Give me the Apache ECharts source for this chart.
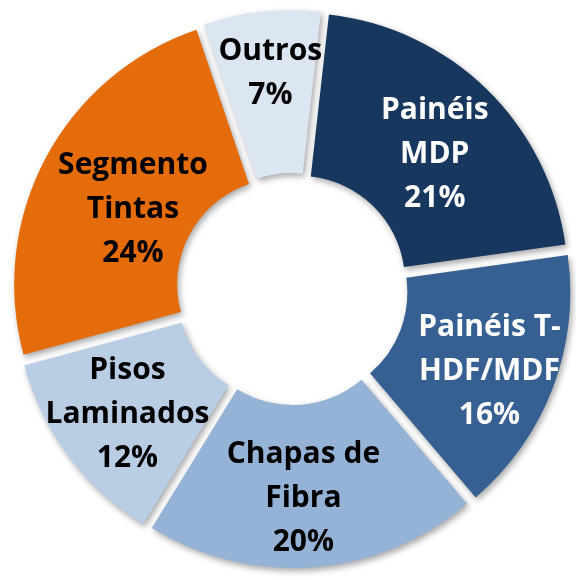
<!DOCTYPE html>
<html>
<head>
<meta charset="utf-8">
<script src="https://cdn.jsdelivr.net/npm/echarts@6/dist/echarts.min.js"></script>
<style>
    html, body { margin: 0; padding: 0; background: #fff; }
    #donutChart { width: 576px; height: 580px; }
</style>
</head>
<body>
<div id="donutChart"></div>
<script>
    // segmentos (ordem horaria a partir do topo)
    const categories = ['Painéis MDP', 'Painéis T-HDF/MDF', 'Chapas de Fibra', 'Pisos Laminados', 'Segmento Tintas', 'Outros']
    const labelText = ['Painéis\nMDP', 'Painéis T-\nHDF/MDF', 'Chapas de\nFibra', 'Pisos\nLaminados', 'Segmento\nTintas', 'Outros']
    const shares = [21, 16, 20, 12, 24, 7]

    // estilo
    const colors = ['#17375E', '#376092', '#95B3D7', '#B9CDE5', '#E46C0A', '#DCE6F2']
    const textColors = ['#ffffff', '#ffffff', '#000000', '#000000', '#000000', '#000000']
    // pequeno ajuste do rotulo (px) para ficar como no original
    const labelNudge = [[3, 9], [10, 11], [-4, 10], [-4, 5], [18, 15], [0, -16]]

    let myChart = echarts.init(document.getElementById('donutChart'))

    let data = categories.map((name, i) => ({
        name: name,
        value: shares[i],
        selected: true,
        itemStyle: { color: colors[i] },
        label: { color: textColors[i] },
        select: {
            itemStyle: { color: colors[i], borderWidth: 0 },
            label: { color: textColors[i] }
        }
    }))

    let options = {
        animation: false,
        series: [{
            type: 'pie',
            center: [292, 289],
            radius: [106, 269],
            startAngle: 83.6,
            clockwise: true,
            selectedMode: 'multiple',
            selectedOffset: 10,
            avoidLabelOverlap: false,
            itemStyle: {
                borderWidth: 0,
                shadowBlur: 6,
                shadowColor: 'rgba(0,0,0,0.35)',
                shadowOffsetX: 2,
                shadowOffsetY: 3
            },
            label: {
                show: true,
                position: 'inside',
                fontFamily: 'Open Sans',
                fontWeight: 'bold',
                fontSize: 30,
                lineHeight: 44,
                align: 'center',
                formatter: p => labelText[p.dataIndex] + '\n' + p.value + '%'
            },
            labelLayout: p => ({
                dx: labelNudge[p.dataIndex][0],
                dy: labelNudge[p.dataIndex][1]
            }),
            labelLine: { show: false },
            emphasis: { disabled: true },
            data: data
        }]
    }
    myChart.setOption(options)
</script>
</body>
</html>
